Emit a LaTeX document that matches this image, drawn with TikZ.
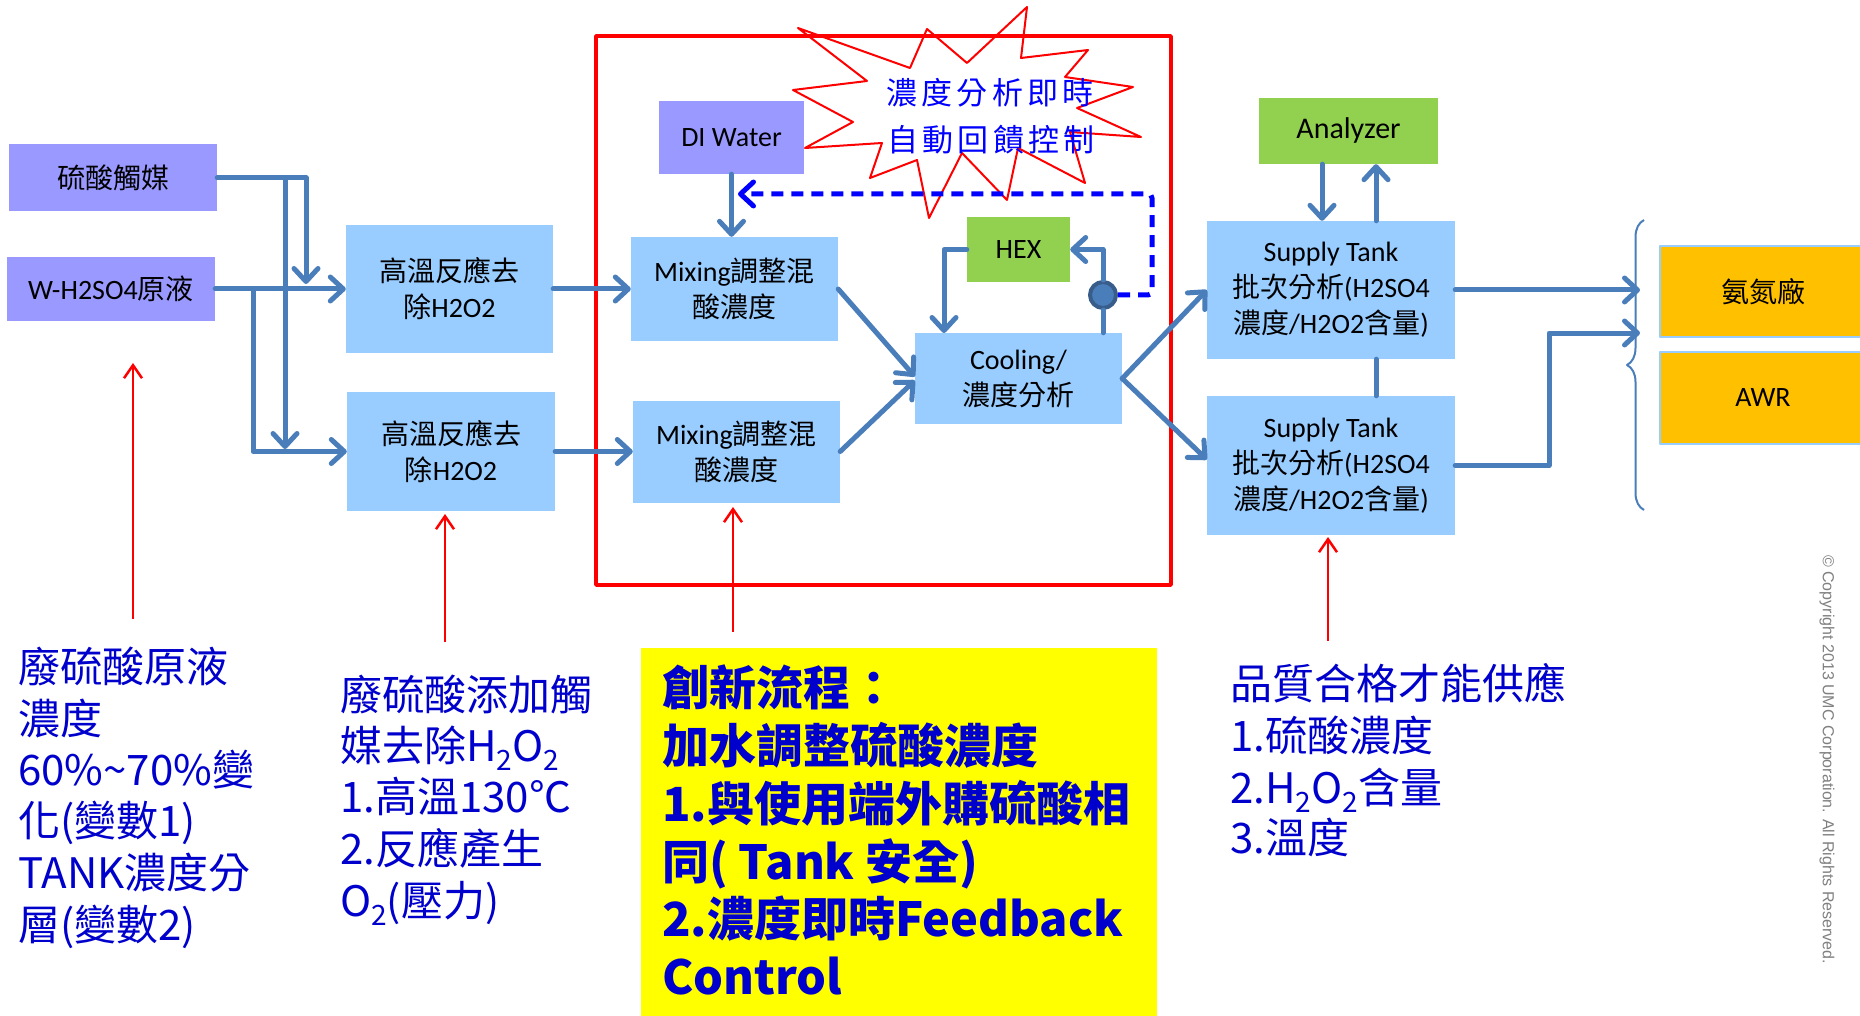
\documentclass[tikz,border=0pt]{standalone}
\usepackage{fontspec}
\setmainfont{Carlito}
\newfontfamily\cjk{Noto Sans CJK TC}
\newfontfamily\cjksp{Noto Sans CJK TC}[LetterSpace=14]
\newfontfamily\copyfont{Liberation Sans}
\usetikzlibrary{arrows.meta,decorations.pathreplacing}
\definecolor{purp}{HTML}{9999FF}
\definecolor{lblue}{HTML}{99CCFF}
\definecolor{lgreen}{HTML}{92D050}
\definecolor{orng}{HTML}{FFC000}
\definecolor{flowc}{HTML}{4A7EBB}
\definecolor{valvedark}{HTML}{385D8A}
\definecolor{fbblue}{HTML}{0000FF}
\definecolor{tblue}{HTML}{0000CC}
\definecolor{yel}{HTML}{FFFF00}
\definecolor{cpgray}{HTML}{808080}
\newcommand{\subtwo}{\raisebox{-9pt}{\fontsize{28}{28}\selectfont 2}}
\begin{document}
\begin{tikzpicture}[x=1pt,y=-1pt,line join=round]
\tikzset{
  box/.style={inner sep=0pt, align=center, font=\fontsize{28}{36}\selectfont, text=black},
  purpbox/.style={box, fill=purp},
  bluebox/.style={box, fill=lblue},
  greenbox/.style={box, fill=lgreen},
  orangebox/.style={box, fill=orng, draw=lblue, line width=2pt},
  flow/.style={draw=flowc, line width=5pt, line cap=round, line join=round},
  flowarrow/.style={flow, -{Straight Barb[length=13pt,width=24pt,round]}},
  redarrow/.style={draw=red, line width=2.5pt, -{Straight Barb[length=13pt,width=18pt]}},
  fbarrow/.style={draw=fbblue, line width=5pt, dash pattern=on 12pt off 8pt, rounded corners=4pt, -{Straight Barb[length=13pt,width=24pt,round]}},
  blocktext/.style={anchor=base west, inner sep=0pt, text=tblue, font=\cjk\fontsize{42}{42}\selectfont},
  boldtext/.style={anchor=base west, inner sep=0pt, text=tblue, font=\cjk\bfseries\fontsize{47}{47}\selectfont},
}
\fill[white] (0,0) rectangle (1860,1016);
\useasboundingbox (0,0) rectangle (1860,1016);
\begin{scope}
\clip (0,0) rectangle (1860,1016);

% starburst
\draw[red, line width=2pt] (798,28) -- (910,68) -- (927,29) -- (967,63) -- (1027,7) -- (1021,58) -- (1088,50) -- (1065,77) -- (1133,87) -- (1077,108) -- (1141,137) -- (1070,132) -- (1085,183) -- (1018,148) -- (1007,200) -- (962,153) -- (929,218) -- (917,160) -- (870,178) -- (882,143) -- (805,148) -- (853,122) -- (793,90) -- (867,81) -- cycle;
\node[font=\cjksp\fontsize{31}{31}\selectfont, text=fbblue, inner sep=0pt] (sb1) at (990,93) {濃度分析即時};
\node[font=\cjksp\fontsize{31}{31}\selectfont, text=fbblue, inner sep=0pt] (sb2) at (991,140) {自動回饋控制};

% red frame
\draw[red, line width=3.5pt] (596,36) rectangle (1171,585);

% yellow box
\fill[yel] (641,648) rectangle (1157,1020);

% boxes
\node[purpbox, minimum width=208pt, minimum height=67pt] (cat) at (113,178) {{\cjk 硫酸觸媒}};
\node[purpbox, minimum width=208pt, minimum height=63pt] (wh) at (111,289) {W-H2SO4{\cjk 原液}};
\node[bluebox, minimum width=207pt, minimum height=127pt] (r1) at (449.5,289) {{\cjk 高溫反應去}\\{\cjk 除}H2O2};
\node[bluebox, minimum width=208pt, minimum height=119pt] (r2) at (451,451.5) {{\cjk 高溫反應去}\\{\cjk 除}H2O2};
\node[purpbox, minimum width=145pt, minimum height=73pt] (di) at (731.5,137.5) {DI Water};
\node[bluebox, minimum width=207pt, minimum height=104pt] (m1) at (734.5,289) {Mixing{\cjk 調整混}\\{\cjk 酸濃度}};
\node[bluebox, minimum width=207pt, minimum height=102pt] (m2) at (736.5,451.5) {Mixing{\cjk 調整混}\\{\cjk 酸濃度}};
\node[bluebox, minimum width=207pt, minimum height=91pt] (cool) at (1018.5,378.5) {Cooling/\\{\cjk 濃度分析}};
\node[greenbox, minimum width=103pt, minimum height=65pt] (hex) at (1018.5,249.5) {HEX};
\node[greenbox, minimum width=179pt, minimum height=66pt, font=\fontsize{30}{36}\selectfont] (an) at (1348.5,131) {Analyzer};
\node[bluebox, minimum width=248pt, minimum height=138pt] (s1) at (1331,290) {Supply Tank\\{\cjk 批次分析}(H2SO4\\{\cjk 濃度}/H2O2{\cjk 含量})};
\node[bluebox, minimum width=248pt, minimum height=139pt] (s2) at (1331,465.5) {Supply Tank\\{\cjk 批次分析}(H2SO4\\{\cjk 濃度}/H2O2{\cjk 含量})};
\node[orangebox, minimum width=206pt, minimum height=91pt] (nh) at (1763,291.5) {{\cjk 氨氮廠}};
\node[orangebox, minimum width=206pt, minimum height=92pt] (awr) at (1763,398) {AWR};

% left connectors
\coordinate (b1) at (285,178);
\coordinate (j1) at (306,284);
\coordinate (j2) at (285,449);
\coordinate (b2) at (253,289);
\draw[flowarrow] (cat.east) -| (j1);
\draw[flowarrow] (b1) -- (j2);
\draw[flowarrow] (wh.east) -- (r1.west);
\draw[flowarrow] (b2) |- (r2.west);
\draw[flowarrow] (r1.east) -- (r1.east -| m1.west);
\draw[flowarrow] (r2.east) -- (r2.east -| m2.west);
\draw[flowarrow] (di.south) -- (di.south |- m1.north);
\draw[flowarrow] (m1.east) -- ([yshift=2pt]cool.west);
\draw[flowarrow] (m2.east) -- ([yshift=-2pt]cool.west);
\draw[flowarrow] (cool.east) -- (s1.west);
\draw[flowarrow] (cool.east) -- ([yshift=6pt]s2.west);

% cooling loop
\node[circle, fill=flowc, draw=valvedark, line width=4pt, minimum size=26pt, inner sep=0pt] (valve) at (1103,295) {};
\draw[flow] (valve.south |- cool.north) -- (valve.south);
\draw[flowarrow] (valve.north) |- (hex.east);
\coordinate (c2) at (944,333);
\draw[flowarrow] (hex.west) -| (c2);

% feedback
\coordinate (fbc) at (1152,194);
\coordinate (fbt) at (738,194);
\draw[fbarrow] (valve.east) -| (fbc) -- (fbt);

% analyzer
\coordinate (aD) at (1322,0);
\coordinate (aU) at (1376,0);
\draw[flowarrow] (an.south -| aD) -- (s1.north -| aD);
\draw[flowarrow] (s1.north -| aU) -- (an.south -| aU);
\draw[flow] (s1.south -| aU) -- (s2.north -| aU);

% outputs
\coordinate (t1) at (1640,290);
\coordinate (k) at (1549,333);
\coordinate (t2) at (1640,333);
\draw[flowarrow] (s1.east) -- (t1);
\draw[flowarrow] (s2.east) -| (k) -- (t2);

% brace
\coordinate (brb) at (1644,510);
\coordinate (brt) at (1644,220);
\draw[flowc, line width=2pt, decorate, decoration={brace, amplitude=17pt}] (brb) -- (brt);

% red arrows
\coordinate (ra1s) at (133,619); \coordinate (ra1e) at (133,363);
\coordinate (ra2s) at (445,642); \coordinate (ra2e) at (445,514);
\coordinate (ra3s) at (733,632); \coordinate (ra3e) at (733,507);
\coordinate (ra4s) at (1328,641); \coordinate (ra4e) at (1328,537);
\draw[redarrow] (ra1s) -- (ra1e);
\draw[redarrow] (ra2s) -- (ra2e);
\draw[redarrow] (ra3s) -- (ra3e);
\draw[redarrow] (ra4s) -- (ra4e);

% text block 1
\node[blocktext] (t1a) at (18,682) {廢硫酸原液};
\node[blocktext] (t1b) at (18,734) {濃度};
\node[blocktext] (t1c) at (18,785) {60\%\textasciitilde70\%變};
\node[blocktext] (t1d) at (18,836) {化(變數1)};
\node[blocktext] (t1e) at (18,888) {TANK濃度分};
\node[blocktext] (t1f) at (18,940) {層(變數2)};

% text block 2
\node[blocktext] (t2a) at (340,710) {廢硫酸添加觸};
\node[blocktext] (t2b) at (340,761) {媒去除H\subtwo O\subtwo};
\node[blocktext] (t2c) at (340,812) {1.高溫130℃};
\node[blocktext] (t2d) at (340,864) {2.反應產生};
\node[blocktext] (t2e) at (340,916) {O\subtwo(壓力)};

% text block 3
\node[boldtext] (t3a) at (662,705) {創新流程：};
\node[boldtext] (t3b) at (662,763) {加水調整硫酸濃度};
\node[boldtext] (t3c) at (662,821) {1.與使用端外購硫酸相};
\node[boldtext] (t3d) at (662,879) {同( Tank 安全)};
\node[boldtext] (t3e) at (662,936) {2.濃度即時Feedback};
\node[boldtext] (t3f) at (662,994) {Control};

% text block 4
\node[blocktext] (t4a) at (1230,699) {品質合格才能供應};
\node[blocktext] (t4b) at (1230,751) {1.硫酸濃度};
\node[blocktext] (t4c) at (1230,803) {2.H\subtwo O\subtwo 含量};
\node[blocktext] (t4d) at (1230,853) {3.溫度};

% copyright
\node[rotate=-90, anchor=west, inner sep=0pt, font=\copyfont\fontsize{16}{16}\selectfont, text=cpgray] (copy) at (1827,555) {© Copyright 2013 UMC Corporation. All Rights Reserved.};
\end{scope}
\end{tikzpicture}
\end{document}
